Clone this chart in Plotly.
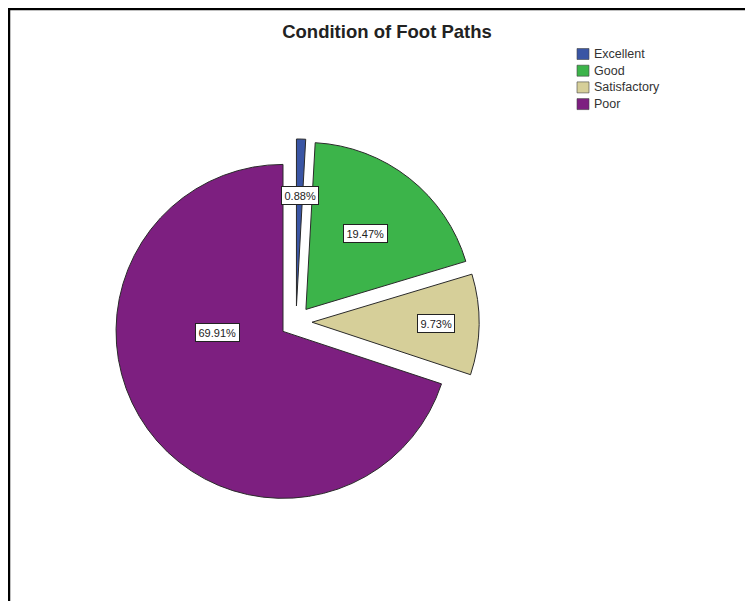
import math
import plotly.graph_objects as go

# ---- data ----
categories = ["Excellent", "Good", "Satisfactory", "Poor"]
counts = [1, 22, 11, 79]          # percentages 0.88 / 19.47 / 9.73 / 69.91
title_text = "Condition of Foot Paths"

# ---- style ----
colors = ["#3a55a4", "#3cb44a", "#d6cf99", "#7d1f80"]
pull = 0.096
label_frac = [0.66, 0.58, 0.74, 0.39]     # radial position of labels (fraction of radius)
label_turn = [0, 0, 0, 35]                # angular shift of labels (degrees)

W, H = 753, 601
OFF = 8  # page body margin: figure is drawn 8px right/down in the window
cx_px, cy_px, box = 296 - OFF, 322 - OFF, 366

dom_x = [(cx_px - box / 2) / W, (cx_px + box / 2) / W]
dom_y = [1 - (cy_px + box / 2) / H, 1 - (cy_px - box / 2) / H]

fig = go.Figure(go.Pie(
    labels=categories,
    values=counts,
    marker=dict(colors=colors, line=dict(color="#2a2a2a", width=1)),
    pull=[pull] * len(counts),
    sort=False,
    direction="clockwise",
    rotation=0,
    textinfo="none",
    hoverinfo="label+percent",
    showlegend=False,
    domain=dict(x=dom_x, y=dom_y),
))

# labels with boxes, placed from the pie geometry
total = sum(counts)
r = (box / 2) / (1 + pull)
cum = 0
annotations = []
for cat, v, f, t in zip(categories, counts, label_frac, label_turn):
    mid = (cum + v / 2) / total * 2 * math.pi
    cum += v
    px = cx_px + r * pull * math.sin(mid)
    py = cy_px - r * pull * math.cos(mid)
    a = mid + math.radians(t)
    x = px + r * f * math.sin(a)
    y = py - r * f * math.cos(a)
    annotations.append(dict(
        x=x / W, y=1 - y / H, xref="paper", yref="paper",
        xanchor="center", yanchor="middle",
        text=f"{100 * v / total:.2f}%", showarrow=False,
        font=dict(family="Liberation Sans, Arial", size=11, color="#222"),
        bgcolor="white", bordercolor="#222", borderwidth=1, borderpad=2.5,
    ))

# legend (compact, SPSS style)
shapes = []
leg_x, leg_y0, leg_dy = 577 - OFF, 54 - OFF, 16.7
for i, (cat, col) in enumerate(zip(categories, colors)):
    yc = leg_y0 + i * leg_dy
    shapes.append(dict(type="rect", xref="paper", yref="paper",
                       x0=leg_x / W, x1=(leg_x + 12) / W,
                       y0=1 - (yc + 5.5) / H, y1=1 - (yc - 5.5) / H,
                       fillcolor=col, line=dict(color="#444", width=0.6)))
    annotations.append(dict(
        x=(leg_x + 15) / W, y=1 - yc / H, xref="paper", yref="paper",
        xanchor="left", yanchor="middle", text=cat, showarrow=False,
        font=dict(family="Liberation Sans, Arial", size=12.5, color="#333"),
    ))

# frame lines (left and top edges)
shapes.append(dict(type="line", xref="paper", yref="paper",
                   x0=1 / W, x1=1 / W, y0=0, y1=1,
                   line=dict(color="black", width=2.5)))
shapes.append(dict(type="line", xref="paper", yref="paper",
                   x0=0, x1=1, y0=1 - 1 / H, y1=1 - 1 / H,
                   line=dict(color="black", width=2.5)))

fig.update_layout(
    width=W, height=H,
    margin=dict(l=0, r=0, t=0, b=0),
    paper_bgcolor="white", plot_bgcolor="white",
    title=dict(text=f"<b>{title_text}</b>", x=(387 - OFF) / W, xanchor="center",
               y=1 - (32 - OFF) / H, yanchor="middle", yref="container",
               font=dict(family="Liberation Sans, Arial", size=18.5, color="#222")),
    annotations=annotations,
    shapes=shapes,
)

fig.write_html("out.html")
